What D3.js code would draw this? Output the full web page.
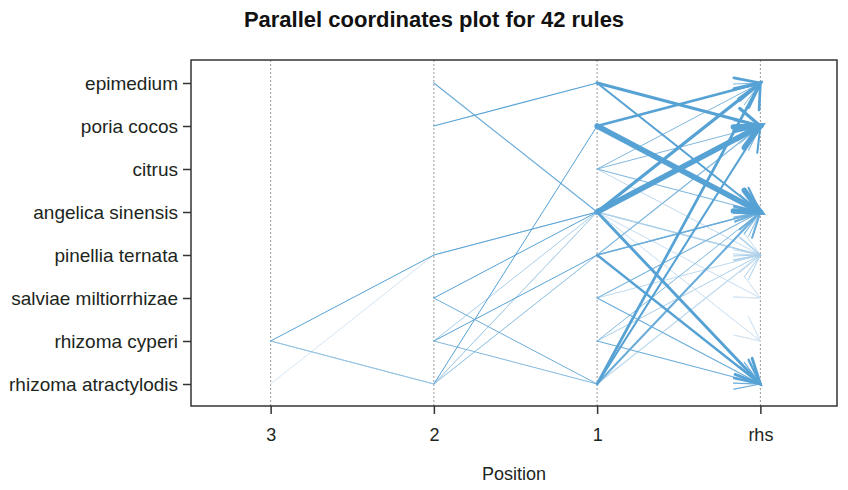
<!DOCTYPE html>
<html>
<head>
<meta charset="utf-8">
<script src="https://cdn.jsdelivr.net/npm/d3@7"></script>
<style>
  body { margin: 0; background: #fff; }
  svg { font-family: "Liberation Sans", Arial, sans-serif; }
</style>
</head>
<body>
<svg id="chart" width="848" height="490"></svg>
<script>
// items on the y axis, top to bottom
const items = ['epimedium', 'poria cocos', 'citrus', 'angelica sinensis',
  'pinellia ternata', 'salviae miltiorrhizae', 'rhizoma cyperi', 'rhizoma atractylodis'];
const positionLabels = ['3', '2', '1', 'rhs'];

// rules: lhs items left to right (last one sits on position 1), rhs item, support, lift
const ruleLhs = [
  ['epimedium'], ['epimedium'], ['poria cocos'], ['poria cocos'],
  ['citrus'], ['citrus'], ['citrus'], ['citrus'],
  ['angelica sinensis'], ['angelica sinensis'], ['angelica sinensis'], ['angelica sinensis'],
  ['angelica sinensis'], ['angelica sinensis'],
  ['pinellia ternata'], ['pinellia ternata'], ['pinellia ternata'],
  ['salviae miltiorrhizae'], ['salviae miltiorrhizae'], ['salviae miltiorrhizae'],
  ['rhizoma cyperi'], ['rhizoma cyperi'], ['rhizoma cyperi'],
  ['rhizoma atractylodis'], ['rhizoma atractylodis'], ['rhizoma atractylodis'], ['rhizoma atractylodis'],
  ['epimedium', 'angelica sinensis'], ['poria cocos', 'epimedium'],
  ['salviae miltiorrhizae', 'angelica sinensis'], ['salviae miltiorrhizae', 'rhizoma atractylodis'],
  ['rhizoma cyperi', 'pinellia ternata'], ['rhizoma cyperi', 'rhizoma atractylodis'],
  ['rhizoma cyperi', 'angelica sinensis'], ['rhizoma atractylodis', 'poria cocos'],
  ['rhizoma atractylodis', 'angelica sinensis'], ['rhizoma atractylodis', 'pinellia ternata'],
  ['pinellia ternata', 'angelica sinensis'],
  ['rhizoma cyperi', 'pinellia ternata', 'angelica sinensis'],
  ['rhizoma cyperi', 'rhizoma atractylodis', 'pinellia ternata'],
  ['rhizoma atractylodis', 'pinellia ternata', 'angelica sinensis'],
  ['rhizoma cyperi', 'rhizoma atractylodis', 'angelica sinensis']
];
const ruleRhs = [
  'poria cocos', 'angelica sinensis', 'epimedium', 'angelica sinensis',
  'epimedium', 'poria cocos', 'angelica sinensis', 'pinellia ternata',
  'poria cocos', 'epimedium', 'rhizoma atractylodis', 'pinellia ternata',
  'salviae miltiorrhizae', 'rhizoma cyperi',
  'angelica sinensis', 'rhizoma atractylodis', 'poria cocos',
  'angelica sinensis', 'rhizoma atractylodis', 'pinellia ternata',
  'angelica sinensis', 'rhizoma atractylodis', 'pinellia ternata',
  'epimedium', 'poria cocos', 'angelica sinensis', 'pinellia ternata',
  'poria cocos', 'angelica sinensis',
  'rhizoma atractylodis', 'angelica sinensis',
  'rhizoma atractylodis', 'angelica sinensis',
  'pinellia ternata', 'angelica sinensis',
  'pinellia ternata', 'angelica sinensis',
  'rhizoma cyperi',
  'rhizoma atractylodis',
  'angelica sinensis',
  'salviae miltiorrhizae',
  'rhizoma atractylodis'
];
const ruleSupport = [
  0.16, 0.10, 0.13, 0.26,
  0.05, 0.05, 0.06, 0.05,
  0.26, 0.16, 0.14, 0.08,
  0.05, 0.05,
  0.08, 0.11, 0.06,
  0.06, 0.06, 0.05,
  0.05, 0.06, 0.05,
  0.13, 0.10, 0.10, 0.06,
  0.06, 0.06,
  0.05, 0.05,
  0.05, 0.05,
  0.05, 0.05,
  0.05, 0.05,
  0.05,
  0.05,
  0.05,
  0.05,
  0.05
];
const ruleLift = [
  1.6, 1.5, 1.6, 1.6,
  1.4, 1.4, 1.4, 1.1,
  1.6, 1.6, 1.6, 1.1,
  1.0, 1.0,
  1.5, 1.6, 1.4,
  1.4, 1.5, 1.1,
  1.4, 1.5, 1.2,
  1.6, 1.6, 1.5, 1.1,
  1.5, 1.6,
  1.6, 1.5,
  1.6, 1.4,
  1.2, 1.6,
  1.1, 1.0,
  1.0,
  1.6,
  1.3,
  1.0,
  1.2
];

const svg = d3.select('#chart');
const plot = { left: 191, right: 837, top: 60, bottom: 406 };

// x: 1 -> position "3", 4 -> "rhs"
const x = d3.scaleLinear().domain([0.5, 4.5]).range([189, 842]);
const y = d3.scalePoint().domain(items).range([83, 384]);

const widthScale = d3.scaleLinear().domain([0.05, 0.26]).range([1, 5.5]);
const colorScale = d3.scaleLinear().domain([1.0, 1.6])
  .range(['#d4e5f3', '#56a2d5']).interpolate(d3.interpolateRgb);

// dotted guide lines at each position
svg.append('g').selectAll('line')
  .data(positionLabels)
  .enter().append('line')
  .attr('x1', (d, i) => x(i + 1)).attr('x2', (d, i) => x(i + 1))
  .attr('y1', plot.top).attr('y2', plot.bottom)
  .attr('stroke', '#9a9a9a').attr('stroke-width', 1)
  .attr('stroke-dasharray', '2,2');

// build rule polylines, light ones drawn first
const rules = ruleLhs.map((lhs, i) => {
  const pts = lhs.map((it, j) => [x(4 - (lhs.length - j)), y(it)]);
  pts.push([x(4), y(ruleRhs[i])]);
  return { pts, support: ruleSupport[i], lift: ruleLift[i] };
}).sort((a, b) => a.lift - b.lift);

const line = d3.line();
const ruleG = svg.append('g').attr('fill', 'none').attr('stroke-linecap', 'round');

rules.forEach(r => {
  const col = colorScale(r.lift);
  const w = widthScale(r.support);
  ruleG.append('path')
    .attr('d', line(r.pts))
    .attr('stroke', col)
    .attr('stroke-width', w)
    .attr('stroke-linejoin', 'round');

  // arrow head at rhs
  const [x0, y0] = r.pts[r.pts.length - 2];
  const [x1, y1] = r.pts[r.pts.length - 1];
  const ang = Math.atan2(y1 - y0, x1 - x0);
  const len = 27, spread = Math.PI / 7;
  const barbs = [ang + Math.PI - spread, ang + Math.PI + spread].map(a =>
    [x1 + len * Math.cos(a), y1 + len * Math.sin(a)]);
  ruleG.append('path')
    .attr('d', line([barbs[0], [x1, y1], barbs[1]]))
    .attr('stroke', col)
    .attr('stroke-width', w)
    .attr('stroke-linejoin', 'miter');
});

// plot frame
svg.append('rect')
  .attr('x', plot.left).attr('y', plot.top)
  .attr('width', plot.right - plot.left).attr('height', plot.bottom - plot.top)
  .attr('fill', 'none').attr('stroke', '#333').attr('stroke-width', 1.5);

// y axis
const yAxis = svg.append('g')
  .attr('transform', `translate(${plot.left},0)`)
  .call(d3.axisLeft(y).tickSize(8).tickPadding(5));
yAxis.select('.domain').remove();
yAxis.selectAll('line').attr('stroke', '#333').attr('stroke-width', 1.5);
yAxis.selectAll('text').attr('font-size', 19).attr('fill', '#1c261c')
  .style('font-family', '"Liberation Sans", Arial, sans-serif');

// x axis
const xAxis = svg.append('g')
  .attr('transform', `translate(0,${plot.bottom})`)
  .call(d3.axisBottom(x).tickValues([1, 2, 3, 4])
    .tickFormat((d, i) => positionLabels[i]).tickSize(8).tickPadding(14));
xAxis.select('.domain').remove();
xAxis.selectAll('line').attr('stroke', '#333').attr('stroke-width', 1.5);
xAxis.selectAll('text').attr('font-size', 18).attr('fill', '#1c261c')
  .style('font-family', '"Liberation Sans", Arial, sans-serif');

svg.append('text')
  .attr('x', 514).attr('y', 480)
  .attr('text-anchor', 'middle')
  .attr('font-size', 18).attr('fill', '#1c261c')
  .text('Position');

svg.append('text')
  .attr('x', 434).attr('y', 27)
  .attr('text-anchor', 'middle')
  .attr('font-size', 22).attr('font-weight', 'bold').attr('fill', '#111')
  .text('Parallel coordinates plot for 42 rules');
</script>
</body>
</html>
